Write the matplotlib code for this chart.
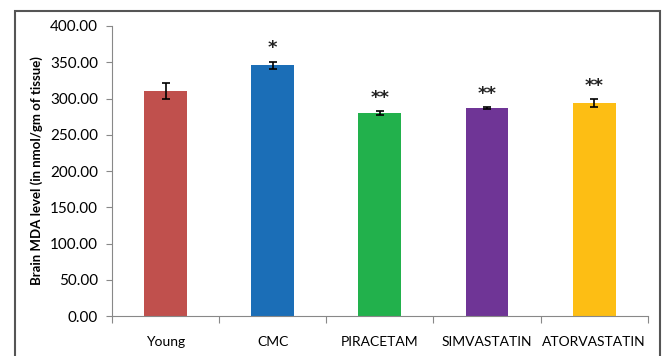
import matplotlib
matplotlib.use("Agg")
import matplotlib.pyplot as plt
from matplotlib.patches import Rectangle

groups = ["Young", "CMC", "PIRACETAM", "SIMVASTATIN", "ATORVASTATIN"]
mda = [311, 346, 280, 287, 294]
sem = [11, 5, 3, 1, 5]
stars = ["", "*", "**", "**", "**"]
colors = ["#C0504D", "#1B6EB7", "#22B14C", "#6F3596", "#FDBE14"]

plt.rcParams['font.family'] = ['Lato', 'DejaVu Sans']

fig = plt.figure(figsize=(6.63, 3.56), dpi=100)
ax = fig.add_axes([0.169, 0.112, 0.808, 0.815])

x = range(len(groups))
ax.bar(x, mda, width=0.4, color=colors, yerr=sem,
       error_kw=dict(ecolor="black", elinewidth=1.2, capsize=3, capthick=1.2))

# significance marks above the error bars
for i in x:
    if stars[i]:
        ax.text(i, mda[i] + sem[i] + 6, stars[i], ha="center", va="bottom",
                fontsize=13, color="#222222", family="DejaVu Sans",
                fontweight="bold")

ax.set_xlim(-0.5, len(groups) - 0.5)
ax.set_ylim(0, 400)
ax.set_yticks(range(0, 401, 50))
ax.set_yticklabels([f"{v:.2f}" for v in range(0, 401, 50)], fontsize=11)
ax.set_xticks([i - 0.5 for i in range(len(groups) + 1)])
ax.set_xticklabels([])
ax.set_xticks(list(x), minor=True)
ax.set_xticklabels(groups, minor=True, fontsize=10)
ax.tick_params(axis="x", which="minor", length=0, pad=14)
ax.tick_params(axis="x", which="major", length=5, color="#888888")
ax.tick_params(axis="y", length=4, color="#888888", pad=6)

for s in ["top", "right"]:
    ax.spines[s].set_visible(False)
for s in ["left", "bottom"]:
    ax.spines[s].set_color("#888888")

ax.set_ylabel("Brain MDA level (in nmol/gm of tissue)", fontsize=9.5,
              fontweight="bold", labelpad=5)

# outer frame
fig.patches.append(Rectangle((15 / 663, -0.01), 645 / 663, 1 - 11 / 356 + 0.01,
                             transform=fig.transFigure, fill=False,
                             edgecolor="#555555", linewidth=1.5))

fig.savefig("out.png", dpi=100)
